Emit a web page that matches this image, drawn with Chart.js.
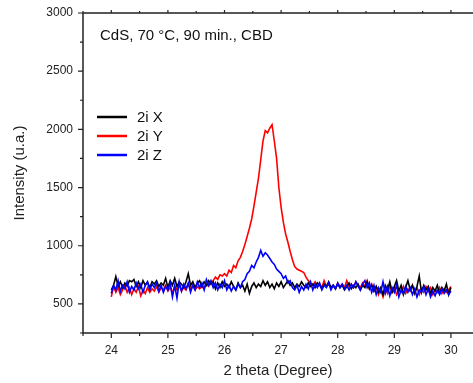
<!DOCTYPE html>
<html>
<head>
<meta charset="utf-8">
<title>CdS XRD</title>
<script src="https://cdn.jsdelivr.net/npm/chart.js@4.4.1/dist/chart.umd.min.js"></script>
<style>
  html, body { margin: 0; padding: 0; background: #fff; }
  #wrap { width: 473px; height: 383px; position: relative; }
</style>
</head>
<body>
<div id="wrap"><canvas id="xrdChart"></canvas></div>
<script>
// 2 theta (Degree)
const theta = [
  24.00, 24.04, 24.08, 24.12, 24.16, 24.20, 24.24, 24.28, 24.32, 24.36,
  24.40, 24.44, 24.48, 24.52, 24.56, 24.60, 24.64, 24.68, 24.72, 24.76,
  24.80, 24.84, 24.88, 24.92, 24.96, 25.00, 25.04, 25.08, 25.12, 25.16,
  25.20, 25.24, 25.28, 25.32, 25.36, 25.40, 25.44, 25.48, 25.52, 25.56,
  25.60, 25.64, 25.68, 25.72, 25.76, 25.80, 25.84, 25.88, 25.92, 25.96,
  26.00, 26.04, 26.08, 26.12, 26.16, 26.20, 26.24, 26.28, 26.32, 26.36,
  26.40, 26.44, 26.48, 26.52, 26.56, 26.60, 26.64, 26.68, 26.72, 26.76,
  26.80, 26.84, 26.88, 26.92, 26.96, 27.00, 27.04, 27.08, 27.12, 27.16,
  27.20, 27.24, 27.28, 27.32, 27.36, 27.40, 27.44, 27.48, 27.52, 27.56,
  27.60, 27.64, 27.68, 27.72, 27.76, 27.80, 27.84, 27.88, 27.92, 27.96,
  28.00, 28.04, 28.08, 28.12, 28.16, 28.20, 28.24, 28.28, 28.32, 28.36,
  28.40, 28.44, 28.48, 28.52, 28.56, 28.60, 28.64, 28.68, 28.72, 28.76,
  28.80, 28.84, 28.88, 28.92, 28.96, 29.00, 29.04, 29.08, 29.12, 29.16,
  29.20, 29.24, 29.28, 29.32, 29.36, 29.40, 29.44, 29.48, 29.52, 29.56,
  29.60, 29.64, 29.68, 29.72, 29.76, 29.80, 29.84, 29.88, 29.92, 29.96,
  30.00
]

// 2i X
const serieX = [
  620, 660, 735, 650, 690, 640, 680, 655, 700, 690,
  710, 650, 690, 640, 700, 660, 685, 640, 690, 670,
  700, 650, 680, 660, 720, 640, 700, 660, 720, 650,
  690, 670, 640, 690, 760, 660, 690, 640, 680, 700,
  650, 690, 660, 700, 670, 690, 630, 680, 640, 690,
  650, 670, 640, 690, 650, 620, 680, 640, 660, 610,
  670, 590, 650, 680, 640, 670, 650, 700, 660, 690,
  640, 670, 630, 680, 650, 690, 640, 670, 700, 660,
  680, 640, 670, 650, 690, 660, 640, 680, 650, 670,
  640, 680, 660, 630, 670, 650, 690, 640, 660, 630,
  670, 640, 660, 620, 650, 680, 630, 660, 640, 670,
  620, 660, 640, 690, 630, 660, 610, 650, 600, 640,
  580, 660, 620, 690, 600, 650, 700, 610, 660, 580,
  640, 700, 620, 660, 590, 650, 740, 600, 660, 620,
  650, 590, 640, 610, 660, 590, 640, 610, 670, 580,
  640
]

// 2i Y
const serieY = [
  560, 650, 600, 640, 580, 620, 660, 600, 640, 580,
  630, 600, 650, 570, 620, 590, 640, 600, 630, 610,
  650, 600, 640, 620, 660, 610, 640, 600, 650, 620,
  660, 610, 640, 620, 670, 630, 660, 620, 650, 630,
  650, 630, 670, 650, 690, 700, 730, 710, 750, 740,
  760, 740, 790, 770, 830, 810, 870, 900, 950, 1010,
  1080, 1150, 1230, 1340, 1460, 1580, 1740, 1900, 1990, 1970,
  2010, 2040, 1900, 1750, 1500, 1330, 1200, 1100, 1030, 950,
  880, 820, 800, 790, 780, 770, 730, 700, 680, 660,
  690, 650, 670, 640, 700, 650, 670, 640, 660, 630,
  680, 650, 670, 640, 700, 650, 670, 640, 690, 660,
  640, 680, 650, 700, 630, 670, 610, 650, 580, 630,
  560, 640, 590, 650, 600, 640, 580, 620, 600, 650,
  590, 630, 610, 660, 600, 640, 580, 630, 600, 650,
  610, 640, 580, 620, 600, 640, 590, 630, 600, 620,
  650
]

// 2i Z
const serieZ = [
  590, 660, 620, 700, 610, 660, 630, 690, 600, 650,
  620, 680, 630, 670, 600, 660, 690, 620, 670, 640,
  680, 610, 660, 600, 650, 620, 680, 560, 660, 550,
  690, 610, 670, 630, 680, 600, 660, 620, 690, 640,
  680, 620, 710, 660, 700, 640, 680, 620, 670, 640,
  700, 620, 660, 610, 650, 620, 670, 640, 690, 710,
  760, 780, 830, 810, 860, 900, 960, 910, 940, 920,
  890, 860, 840, 800, 780, 760, 720, 740, 680, 700,
  640, 620, 660, 600, 650, 620, 670, 630, 690, 620,
  670, 640, 680, 620, 660, 640, 680, 620, 660, 630,
  680, 640, 670, 630, 660, 620, 670, 640, 690, 650,
  620, 670, 700, 640, 680, 600, 660, 580, 640, 600,
  690, 590, 650, 570, 640, 600, 660, 560, 620, 590,
  650, 600, 640, 580, 630, 560, 620, 600, 650, 580,
  630, 560, 610, 570, 620, 580, 630, 590, 620, 580,
  610
]

const seriesNames = ['2i X', '2i Y', '2i Z']
const xTicks = [24, 25, 26, 27, 28, 29, 30]
const yTicks = [500, 1000, 1500, 2000, 2500, 3000]
const noteText = 'CdS, 70 °C, 90 min., CBD'

const FONT = "'Liberation Sans', Arial, sans-serif"
const colors = ['#000000', '#ff0000', '#0000ff']

function toPoints(values) {
  return values.map((v, i) => ({ x: theta[i], y: v }))
}

// khung truc + vach chia (chinh + phu)
const framePlugin = {
  id: 'frame',
  afterDraw(chart) {
    const c = chart.ctx
    const a = chart.chartArea
    const xs = chart.scales.x
    const ys = chart.scales.y
    c.save()
    c.strokeStyle = '#222'
    c.lineWidth = 1.5
    c.beginPath()
    c.moveTo(a.left, a.top)
    c.lineTo(chart.width, a.top)
    c.moveTo(a.left, a.top)
    c.lineTo(a.left, a.bottom)
    c.lineTo(chart.width, a.bottom)
    c.stroke()

    c.lineWidth = 1.2
    c.beginPath()
    // x ticks
    for (let v = 23.5; v <= 30.5; v += 0.5) {
      const px = xs.getPixelForValue(v)
      if (px < a.left - 0.5 || px > chart.width) continue
      const major = Number.isInteger(v)
      c.moveTo(px, a.bottom)
      c.lineTo(px, a.bottom + (major ? 5 : 3))
      c.moveTo(px, a.top)
      c.lineTo(px, a.top - (major ? 3 : 2))
    }
    // y ticks
    for (let v = 250; v <= 3000; v += 250) {
      const py = ys.getPixelForValue(v)
      const major = v % 500 === 0
      c.moveTo(a.left, py)
      c.lineTo(a.left - (major ? 5 : 3), py)
    }
    c.stroke()
    c.restore()
  }
}

// chu thich + ghi chu
const legendPlugin = {
  id: 'innerLegend',
  afterDraw(chart) {
    const c = chart.ctx
    c.save()
    c.font = '15px ' + FONT
    c.textBaseline = 'middle'
    c.fillStyle = '#111'
    c.fillText(noteText, 100, 36)

    chart.data.datasets.forEach((ds, i) => {
      const y = 117 + i * 19
      c.strokeStyle = ds.borderColor
      c.lineWidth = 2.5
      c.beginPath()
      c.moveTo(97, y)
      c.lineTo(127, y)
      c.stroke()
      c.fillStyle = '#111'
      c.fillText(ds.label, 137, y + 1)
    })
    c.restore()
  }
}

const ctx = document.getElementById('xrdChart').getContext('2d')

new Chart(ctx, {
  type: 'line',
  data: {
    datasets: [serieX, serieY, serieZ].map((vals, i) => ({
      label: seriesNames[i],
      data: toPoints(vals),
      borderColor: colors[i],
      backgroundColor: colors[i],
      borderWidth: 1.6,
      pointRadius: 0,
      tension: 0,
      fill: false,
      order: [1, 2, 0][i]
    }))
  },
  options: {
    responsive: true,
    maintainAspectRatio: false,
    animation: false,
    layout: { padding: { top: 13, right: 0, left: 0, bottom: 0 } },
    plugins: {
      legend: { display: false },
      tooltip: { enabled: false }
    },
    scales: {
      x: {
        type: 'linear',
        min: 23.5,
        max: 30.39,
        afterBuildTicks: s => { s.ticks = xTicks.map(v => ({ value: v })) },
        afterFit: s => { s.height = 50 },
        grid: { display: false },
        border: { display: false },
        ticks: {
          autoSkip: false,
          maxRotation: 0,
          padding: 2,
          color: '#222',
          font: { family: FONT, size: 12 },
          callback: v => v
        },
        title: {
          display: true,
          text: '2 theta (Degree)',
          color: '#222',
          font: { family: FONT, size: 15 },
          padding: { top: 0, bottom: 3 }
        }
      },
      y: {
        type: 'linear',
        min: 250,
        max: 3000,
        afterBuildTicks: s => { s.ticks = yTicks.map(v => ({ value: v })) },
        afterFit: s => { s.width = 83 },
        grid: { display: false },
        border: { display: false },
        ticks: {
          padding: 2,
          color: '#222',
          font: { family: FONT, size: 12 },
          callback: v => v
        },
        title: {
          display: true,
          text: 'Intensity (u.a.)',
          color: '#222',
          font: { family: FONT, size: 15 },
          padding: { top: 11, bottom: 0 }
        }
      }
    }
  },
  plugins: [framePlugin, legendPlugin]
})
</script>
</body>
</html>
